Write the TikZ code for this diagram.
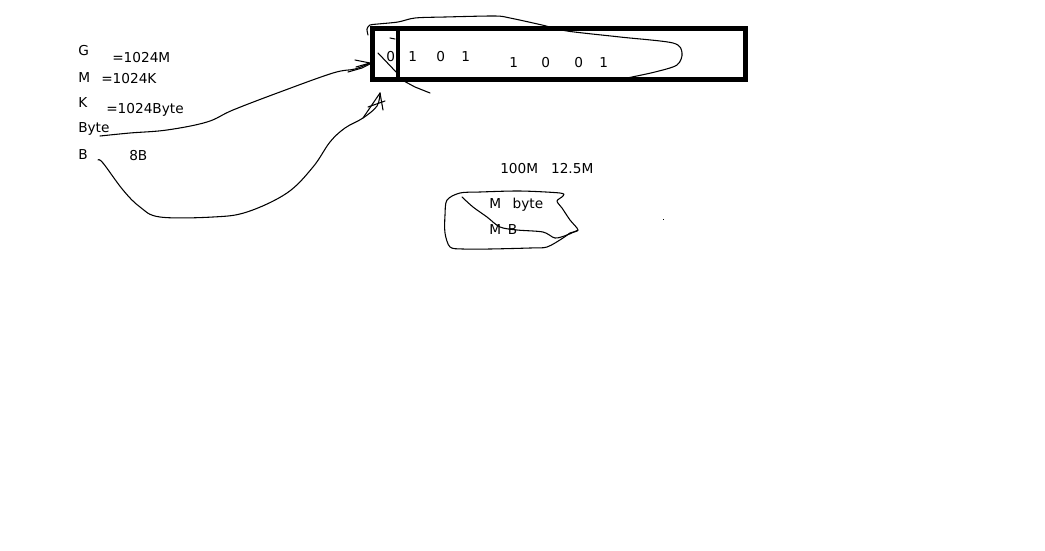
\documentclass[tikz,border=0pt]{standalone}
\usepackage{fontspec}
\setmainfont{DejaVu Sans}
\begin{document}
\begin{tikzpicture}[x=0.75pt,y=-0.75pt,
  lbl/.style={anchor=base west,inner sep=0pt,font=\fontsize{10.25pt}{12pt}\selectfont,text=black},
  pen/.style={line width=0.8pt,line cap=round,line join=round},
  thick box/.style={line width=3.75pt}]
\useasboundingbox (0,0) rectangle (1045,550);
% left labels
\node[lbl] (G) at (78,55) {G};
\node[lbl] (eqM) at (112,62) {=1024M};
\node[lbl] (M) at (78,82) {M};
\node[lbl] (eqK) at (101,83) {=1024K};
\node[lbl] (K) at (78,107) {K};
\node[lbl] (eqB) at (106,113) {=1024Byte};
\node[lbl] (Byte) at (78,132) {Byte};
\node[lbl] (B) at (78,159) {B};
\node[lbl] (eightB) at (129,160) {8B};
% box
\draw[thick box] (372.5,28.5) rectangle (745.5,79.5);
\draw[line width=3.5pt] (398,28.5) -- (398,79.5);
\node[lbl] (d1) at (386,61) {0};
\node[lbl] (d2) at (408,61) {1};
\node[lbl] (d3) at (436,61) {0};
\node[lbl] (d4) at (461,61) {1};
\node[lbl] (d5) at (509,67) {1};
\node[lbl] (d6) at (541,67) {0};
\node[lbl] (d7) at (574,67) {0};
\node[lbl] (d8) at (599,67) {1};
% middle labels
\node[lbl] (hund) at (500,173) {100M\hspace{0.95em}12.5M};
\node[lbl] (Mbyte) at (489,208) {M\hspace{0.85em}byte};
\node[lbl] (MB) at (489,234) {M\enspace B};
% dot
\fill (663,219) rectangle (664,220);
% curve from Byte to box
\coordinate (c1s) at (100,136);
\coordinate (c1e) at (370,63);
\draw[pen] plot[smooth,tension=0.6] coordinates {(100,136) (130,133) (167,130) (207,122) (233,110) (280,92) (333,73) (355,69) (370,63)};
\draw[pen] (355,60) -- (370,63) -- (356,67);
\draw[pen] (348,72) -- (362,68) -- (370,64);
% curve from B to box
\coordinate (c2s) at (98,160);
\coordinate (c2e) at (380,93);
\draw[pen] plot[smooth,tension=0.6] coordinates {(98,160) (103,163) (123,190) (140,207) (160,217) (213,217) (247,212) (287,193) (313,167) (330,142) (345,128) (363,118) (377,106) (380,93)};
\draw[pen] (363,118) -- (380,93) -- (383,110);
\draw[pen] (368,107) -- (385,101);
% loop around digits
\draw[pen] plot[smooth,tension=0.5] coordinates {(368,35) (367,29) (370,25) (378,24) (398,22) (415,18) (445,17) (495,16) (510,18) (542,25) (567,31) (620,37) (673,43) (682,53) (677,65) (655,72) (627,78)};
\draw[pen] (378,53) -- (397,73);
\draw[pen] (402,80) -- (415,87) -- (430,93);
\draw[pen] (390,38) -- (395,39);
% loop around M byte / M B
\draw[pen] plot[smooth cycle,tension=0.5] coordinates {(447,200) (460,193) (480,192) (520,191) (560,193) (563,196) (557,201) (562,208) (570,220) (578,230) (570,233) (563,238) (547,247) (530,248) (490,249) (463,249) (450,247) (445,233) (445,215)};
\draw[pen] plot[smooth,tension=0.5] coordinates {(462,197) (473,207) (487,217) (500,227) (517,230) (543,232) (555,238) (567,235) (578,230)};
\end{tikzpicture}
\end{document}
